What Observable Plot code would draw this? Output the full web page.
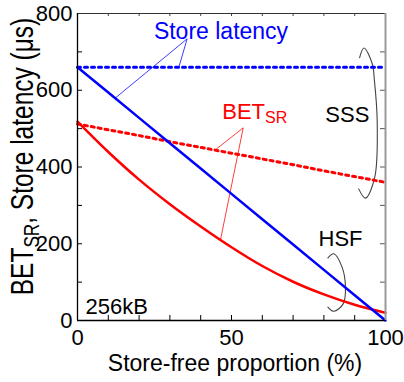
<!DOCTYPE html>
<html>
<head>
<meta charset="utf-8">
<script src="https://cdn.jsdelivr.net/npm/d3@7"></script>
<script src="https://cdn.jsdelivr.net/npm/@observablehq/plot@0.6"></script>
<style>
  html, body { margin: 0; padding: 0; background: #fff; }
  svg { display: block; }
</style>
</head>
<body>
<div id="chart"></div>
<script>
// ---- data ----
const storeFree = [0, 10, 20, 30, 40, 50, 60, 70, 80, 90, 100];            // Store-free proportion (%)
const latencySSS = [660, 660, 660, 660, 660, 660, 660, 660, 660, 660, 660]; // Store latency, SSS (dotted blue)
const latencyHSF = [660, 594, 528, 462, 396, 330, 264, 198, 132, 66, 0];    // Store latency, HSF (solid blue)
const betSSS = [512, 497, 482, 466, 451, 436, 421, 406, 390, 375, 360];     // BET_SR, SSS (dotted red)
const betHSF = [518, 439, 367, 303, 245, 191, 142, 101, 68, 41, 20];        // BET_SR, HSF (solid red)

const xTickLabels = [0, 50, 100];
const yTickLabels = [0, 200, 400, 600, 800];
const xMinorTicks = [0, 10, 20, 30, 40, 50, 60, 70, 80, 90, 100];
const yMinorTicks = [0, 100, 200, 300, 400, 500, 600, 700, 800];

const xTitle = "Store-free proportion (%)";
const yTitle = "BET_SR, Store latency (\u03bcs)";

// annotation labels (data coordinates)
const labelNames = ["Store latency", "BET_SR", "SSS", "HSF", "256kB"];
const labelX = [24.8, 47.0, 87.6, 85.4, 2.6];
const labelY = [734, 525, 517, 195, 17.5];
const labelColor = ["#0000ff", "#ff0000", "#000", "#000", "#000"];
const labelAnchor = ["start", "start", "middle", "middle", "start"];
const labelSize = [23, 22, 22, 22, 22];

// pointer lines from labels to curves
const pointerX1 = [35.6, 35.6, 53.8, 53.8];
const pointerY1 = [734, 734, 502, 502];
const pointerX2 = [32.9, 12.3, 44.8, 46.4];
const pointerY2 = [660, 580, 445, 209];
const pointerColor = ["#0000ff", "#0000ff", "#ff0000", "#ff0000"];

// bracket arcs
const sssArcX = [91.6, 93.0, 95.7, 96.4, 97.3, 96.5, 93.5, 91.3];
const sssArcY = [685, 710, 669, 625, 521, 373, 319, 343];
const hsfArcX = [81.3, 83.2, 85.9, 87.0, 86.3, 83.2, 81.3];
const hsfArcY = [163, 174, 139, 87, 44, 24, 35];

// ---- build ----
const FONT = "'Liberation Sans', Arial, Helvetica, sans-serif";
const BLUE = "#0000ff", RED = "#ff0000";
const DOT = "3,4";

const series = (ys) => storeFree.map((x, i) => ({x, y: ys[i]}));
const labels = labelNames.map((t, i) => ({t, x: labelX[i], y: labelY[i], c: labelColor[i], a: labelAnchor[i], s: labelSize[i]}));
const pointers = pointerX1.map((x1, i) => ({x1, y1: pointerY1[i], x2: pointerX2[i], y2: pointerY2[i], c: pointerColor[i]}));
const sssArc = sssArcX.map((x, i) => ({x, y: sssArcY[i]}));
const hsfArc = hsfArcX.map((x, i) => ({x, y: hsfArcY[i]}));

const H = 382, MT = 13, MB = 62, W = 404, ML = 77, MR = 19;
const innerH = H - MT - MB, innerW = W - ML - MR;
const TL = 5;

const textMarks = labels.map(l => Plot.text([l], {
  x: "x", y: "y", text: "t", fill: l.c, textAnchor: l.a, lineAnchor: "bottom", fontSize: l.s
}));

const chart = Plot.plot({
  width: W, height: H,
  marginLeft: ML, marginRight: MR, marginTop: MT, marginBottom: MB,
  style: {fontFamily: FONT, background: "#fff", overflow: "visible", color: "#000"},
  x: {domain: [0, 100], axis: null},
  y: {domain: [0, 800], axis: null},
  marks: [
    // pointer lines
    Plot.link(pointers, {x1: "x1", y1: "y1", x2: "x2", y2: "y2", stroke: d => d.c, strokeWidth: 0.9, strokeOpacity: 0.85}),
    // bracket arcs
    Plot.line(sssArc, {x: "x", y: "y", curve: "catmull-rom", stroke: "#444", strokeWidth: 1.1}),
    Plot.line(hsfArc, {x: "x", y: "y", curve: "catmull-rom", stroke: "#444", strokeWidth: 1.1}),
    // series
    Plot.line(series(betSSS), {x: "x", y: "y", stroke: RED, strokeWidth: 3, strokeDasharray: DOT}),
    Plot.line(series(latencySSS), {x: "x", y: "y", stroke: BLUE, strokeWidth: 3, strokeDasharray: DOT}),
    Plot.line(series(betHSF), {x: "x", y: "y", stroke: RED, strokeWidth: 2.5, curve: "catmull-rom"}),
    Plot.line(series(latencyHSF), {x: "x", y: "y", stroke: BLUE, strokeWidth: 2.5}),
    // ticks (inside, on all four sides)
    Plot.tickX(xMinorTicks, {x: d => d, insetTop: innerH - TL, stroke: "#000", strokeWidth: 1}),
    Plot.tickX(xMinorTicks, {x: d => d, insetBottom: innerH - 3, stroke: "#444", strokeWidth: 1}),
    Plot.tickY(yMinorTicks, {y: d => d, insetRight: innerW - TL, stroke: "#000", strokeWidth: 1}),
    Plot.tickY(yMinorTicks, {y: d => d, insetLeft: innerW - TL, stroke: "#555", strokeWidth: 1}),
    // frame
    Plot.ruleY([800], {stroke: "#333", strokeWidth: 1}),
    Plot.ruleX([100], {stroke: "#999", strokeWidth: 2}),
    Plot.ruleX([0], {stroke: "#000", strokeWidth: 1.3}),
    Plot.ruleY([0], {stroke: "#000", strokeWidth: 1.3}),
    // tick labels
    Plot.text(xTickLabels, {x: d => d, y: () => 0, text: d => String(d), dy: 9, lineAnchor: "top", fontSize: 22, fill: "#000"}),
    Plot.text(yTickLabels, {x: () => 0, y: d => d, text: d => String(d), dx: -5, textAnchor: "end", lineAnchor: "middle", fontSize: 22, fill: "#000"}),
    // axis titles
    Plot.text([xTitle], {frameAnchor: "bottom", text: d => d, dx: 3.5, dy: 50.7, lineAnchor: "bottom", fontSize: 23, fill: "#000"}),
    Plot.text([yTitle], {frameAnchor: "left", text: d => d, rotate: -90, dx: -45, dy: -10.5, textAnchor: "middle", lineAnchor: "bottom", fontSize: 24.5, fill: "#000"}),
    // annotation labels
    ...textMarks
  ]
});

// subscripts: "X_SR" -> X<sub>SR</sub>
function subscript(t, scale, dropEm) {
  const s = t.textContent;
  const i = s.indexOf("_");
  if (i < 0) return;
  const before = s.slice(0, i), sub = s.slice(i + 1, i + 3), after = s.slice(i + 3);
  t.textContent = "";
  const sel = d3.select(t);
  sel.append("tspan").text(before);
  sel.append("tspan").attr("font-size", scale + "em").attr("dy", (dropEm / scale) + "em").text(sub);
  if (after) sel.append("tspan").attr("dy", (-dropEm) + "em").text(after);
}
chart.querySelectorAll("text").forEach(t => {
  if (t.textContent === "BET_SR") subscript(t, 0.73, 0.18);
  else if (t.textContent.startsWith("BET_SR,")) {
    subscript(t, 0.7, 0.2);
    // the reference's vertical title has taller glyphs than its length implies
    const tr = t.getAttribute("transform") || "";
    t.setAttribute("transform", tr + " scale(1,1.25)");
  }
});

document.getElementById("chart").appendChild(chart);
</script>
</body>
</html>
